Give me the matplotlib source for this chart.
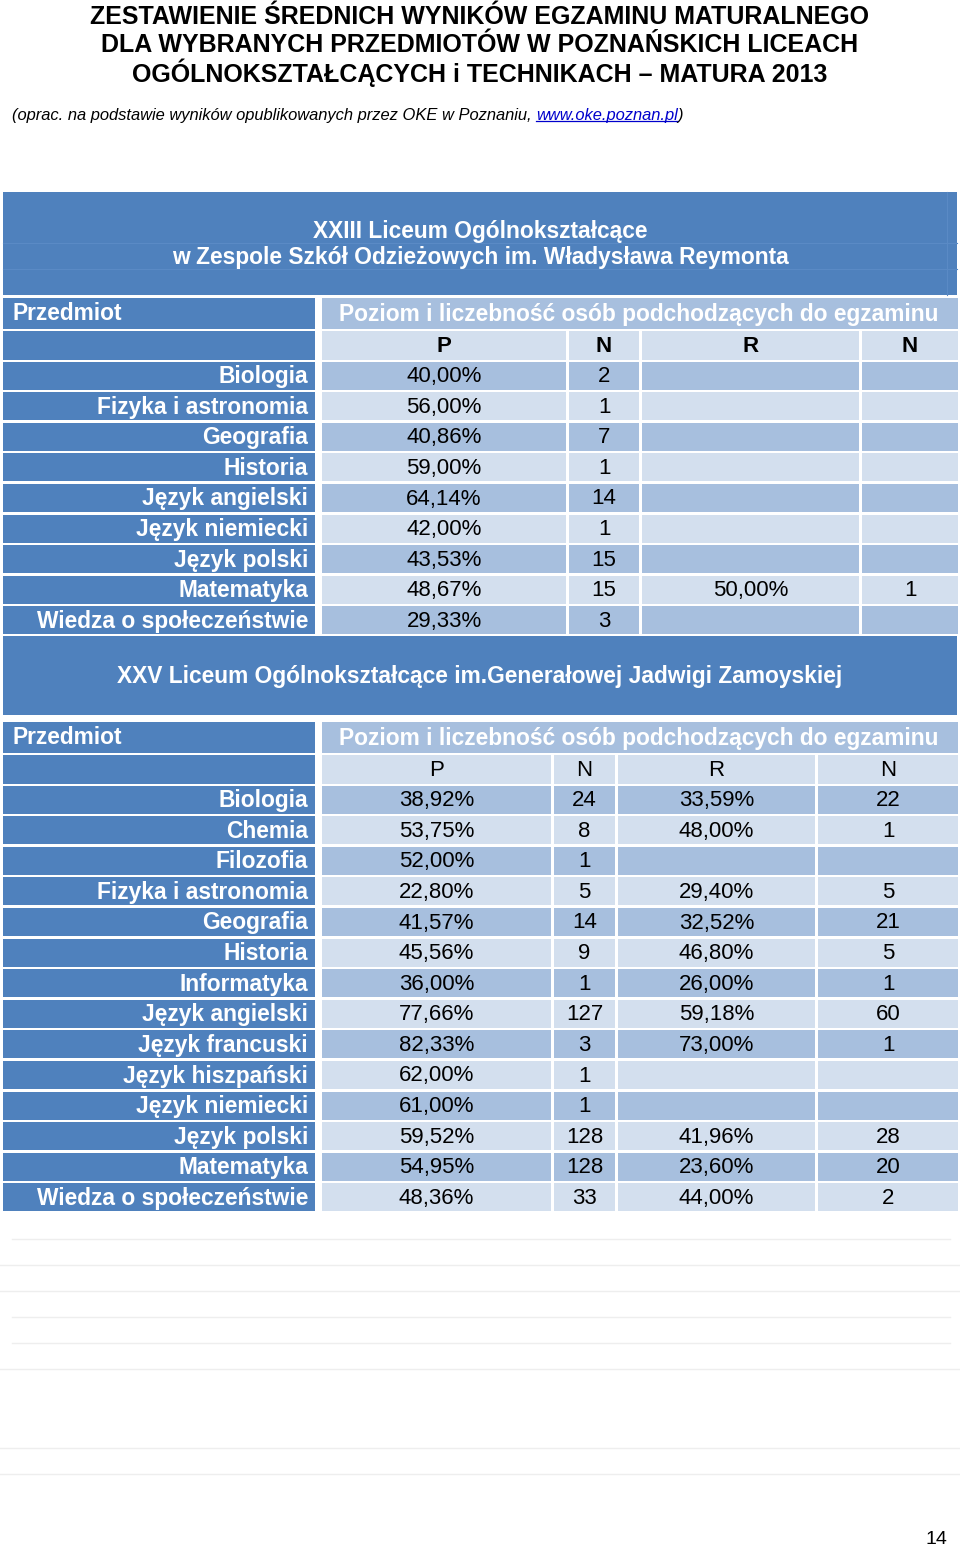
import matplotlib
matplotlib.use("Agg")
from matplotlib import pyplot as plt
from matplotlib.patches import Rectangle

plt.rcParams['font.family'] = ['Liberation Sans', 'DejaVu Sans']

# ---- data ----
title_lines = [
    "ZESTAWIENIE ŚREDNICH WYNIKÓW EGZAMINU MATURALNEGO",
    "DLA WYBRANYCH PRZEDMIOTÓW W POZNAŃSKICH LICEACH",
    "OGÓLNOKSZTAŁCĄCYCH i TECHNIKACH – MATURA 2013",
]
source_text = "(oprac. na podstawie wyników opublikowanych przez OKE w Poznaniu, "
source_link = "www.oke.poznan.pl"

col_headers = ["P", "N", "R", "N"]
group_header = "Poziom i liczebność osób podchodzących do egzaminu"

school1 = ["XXIII Liceum Ogólnokształcące",
           "w Zespole Szkół Odzieżowych im. Władysława Reymonta"]
subjects1 = ["Biologia", "Fizyka i astronomia", "Geografia", "Historia",
             "Język angielski", "Język niemiecki", "Język polski",
             "Matematyka", "Wiedza o społeczeństwie"]
p1 = ["40,00%", "56,00%", "40,86%", "59,00%", "64,14%", "42,00%",
      "43,53%", "48,67%", "29,33%"]
np1 = ["2", "1", "7", "1", "14", "1", "15", "15", "3"]
r1 = ["", "", "", "", "", "", "", "50,00%", ""]
nr1 = ["", "", "", "", "", "", "", "1", ""]

school2 = ["XXV Liceum Ogólnokształcące im.Generałowej Jadwigi Zamoyskiej"]
subjects2 = ["Biologia", "Chemia", "Filozofia", "Fizyka i astronomia",
             "Geografia", "Historia", "Informatyka", "Język angielski",
             "Język francuski", "Język hiszpański", "Język niemiecki",
             "Język polski", "Matematyka", "Wiedza o społeczeństwie"]
p2 = ["38,92%", "53,75%", "52,00%", "22,80%", "41,57%", "45,56%", "36,00%",
      "77,66%", "82,33%", "62,00%", "61,00%", "59,52%", "54,95%", "48,36%"]
np2 = ["24", "8", "1", "5", "14", "9", "1", "127", "3", "1", "1", "128",
       "128", "33"]
r2 = ["33,59%", "48,00%", "", "29,40%", "32,52%", "46,80%", "26,00%",
      "59,18%", "73,00%", "", "", "41,96%", "23,60%", "44,00%"]
nr2 = ["22", "1", "", "5", "21", "5", "1", "60", "1", "", "", "28", "20", "2"]

# ---- style ----
BLUE = "#4F81BD"
MID = "#A7BFDE"
LIGHT = "#D3DFEE"
FS = 16
FSB = 16.4
VA = 'center_baseline'
DY = -1.5  # small upward nudge for text inside cells

fig = plt.figure(figsize=(9.6, 15.46), dpi=100)
ax = fig.add_axes([0, 0, 1, 1])
ax.set_xlim(0, 960)
ax.set_ylim(1546, 0)
ax.axis('off')


def box(x0, x1, y0, y1, color):
    ax.add_patch(Rectangle((x0, y0), x1 - x0, y1 - y0, fc=color, ec='none'))


# title
for i, line in enumerate(title_lines):
    ax.text(480, 14 + 28.3 * i, line, ha='center', va=VA,
            fontsize=18, fontweight='bold', color='black')

# source line with link
H = fig.bbox.height
t = ax.text(12, 114, source_text, ha='left', va=VA, fontsize=11.9,
            style='italic', color='black')
fig.canvas.draw()
r = fig.canvas.get_renderer()
bb = t.get_window_extent(r)
t2 = ax.text(bb.x1, H - 114, source_link, ha='left', va=VA, fontsize=11.9,
             style='italic', color='#0000CC', transform=None)
bb2 = t2.get_window_extent(r)
ax.plot([bb2.x0, bb2.x1], [H - 121] * 2, color='#0000CC', lw=0.9,
        transform=None)
ax.text(bb2.x1, H - 114, ")", ha='left', va=VA,
        fontsize=11.9, style='italic', color='black', transform=None)


def table(block_y, block_lines, head_y, cols, subjects, cols_data, bold_sub,
          inner_lines):
    by0, by1 = block_y
    box(3, 957, by0, by1, BLUE)
    if inner_lines:
        # faint inner borders of the merged block
        for yy in (by0 + 51, by0 + 77):
            ax.plot([3, 957], [yy, yy], color='#5A8AC5', lw=0.8)
        ax.plot([947, 947], [by0, by1], color='#5A8AC5', lw=0.8)
    mid = (by0 + by1) / 2
    n = len(block_lines)
    for i, line in enumerate(block_lines):
        ax.text(480, mid - 13 * (n - 1) + 26 * i + DY, line, ha='center',
                va=VA, fontsize=FSB, fontweight='bold', color='white')

    hy = head_y
    # header row
    box(3, 315, hy - 15, hy + 16, BLUE)
    box(322, 958, hy - 15, hy + 16, MID)
    ax.text(12, hy + DY, "Przedmiot", ha='left', va=VA, fontsize=FSB,
            fontweight='bold', color='white')
    ax.text(639, hy + DY, group_header, ha='center', va=VA, fontsize=FSB,
            fontweight='bold', color='white')
    # sub header row
    sy = hy + 32
    box(3, 315, sy - 14, sy + 15, BLUE)
    for (x0, x1), lab in zip(cols, col_headers):
        box(x0, x1, sy - 14, sy + 15, LIGHT)
        ax.text((x0 + x1) / 2, sy + DY, lab, ha='center', va=VA, fontsize=FS,
                fontweight='bold' if bold_sub else 'normal', color='black')
    # data rows
    for i, subj in enumerate(subjects):
        cy = sy + 30.6 * (i + 1)
        shade = MID if i % 2 == 0 else LIGHT
        box(3, 315, cy - 14, cy + 14, BLUE)
        ax.text(308, cy + DY, subj, ha='right', va=VA, fontsize=FSB,
                fontweight='bold', color='white')
        for (x0, x1), vals in zip(cols, cols_data):
            box(x0, x1, cy - 14, cy + 14, shade)
            if vals[i]:
                ax.text((x0 + x1) / 2, cy + DY, vals[i], ha='center', va=VA,
                        fontsize=FS, color='black')


table((192, 295), school1, 313,
      [(322, 566), (569, 639), (642, 859), (862, 958)],
      subjects1, [p1, np1, r1, nr1], True, True)

table((636, 715), school2, 737,
      [(322, 551), (554, 615), (618, 815), (818, 958)],
      subjects2, [p2, np2, r2, nr2], False, False)

# faint empty rows below
for yy, x0, x1 in [(1239, 12, 950), (1265, 0, 960), (1291, 0, 960),
                   (1317, 12, 950), (1343, 12, 950), (1369, 0, 960),
                   (1448, 0, 960), (1474, 0, 960)]:
    ax.plot([x0, x1], [yy, yy], color='#EEEEEE', lw=1)

ax.text(936, 1537, "14", ha='center', va=VA, fontsize=14, color='black')

fig.savefig("out.png", dpi=100)
